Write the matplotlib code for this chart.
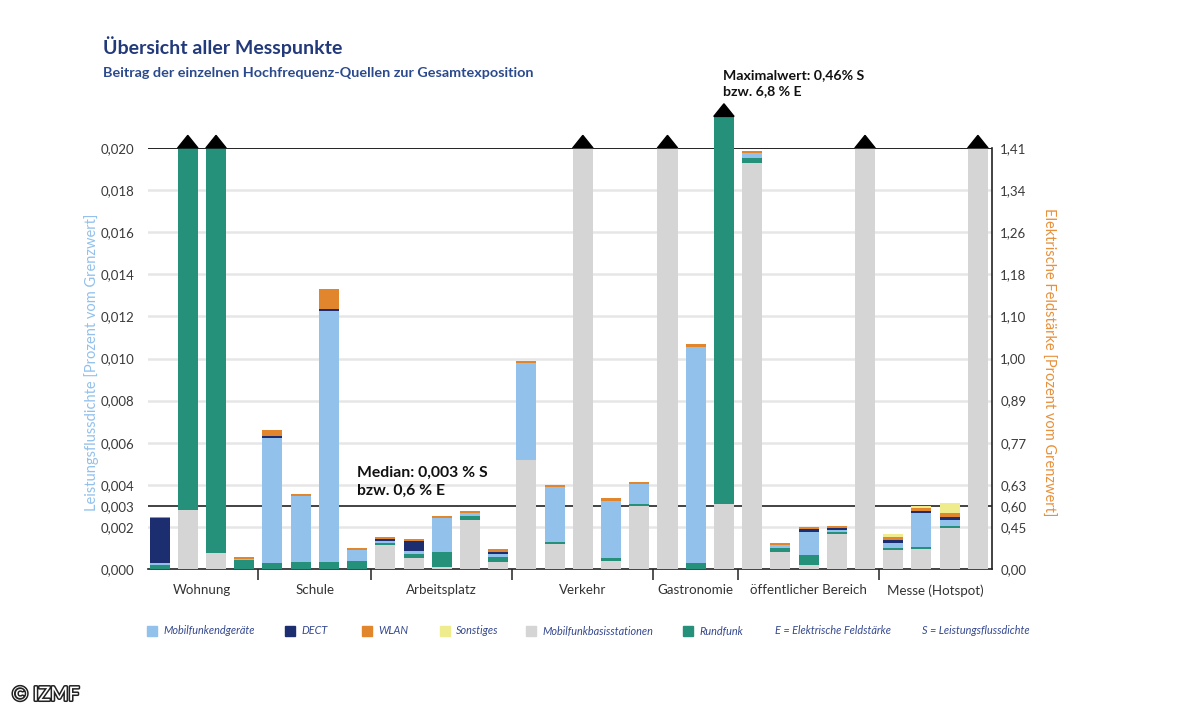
import numpy as np
import matplotlib
matplotlib.use("Agg")
import matplotlib.pyplot as plt
from matplotlib.patches import Polygon, Rectangle
import matplotlib.patheffects as pe

plt.rcParams['font.family'] = ['Lato', 'DejaVu Sans']

# groups of measuring points
groups = ["Wohnung", "Schule", "Arbeitsplatz", "Verkehr", "Gastronomie",
          "öffentlicher Bereich", "Messe (Hotspot)"]
group_sizes = [4, 4, 5, 5, 3, 5, 4]

# contributions in % of limit (power flux density), 30 measuring points
# values above 0,020 are off scale in the original (estimated)
basis = [0, 0.0028, 0.00077, 0, 0, 0, 0, 0,
         0.00114, 0.0005, 0.0001, 0.00233, 0.00035,
         0.00518, 0.00117, 0.028, 0.0004, 0.003,
         0.024, 0, 0.0031,
         0.01927, 0.00082, 0.0002, 0.00165, 0.026,
         0.0009, 0.00094, 0.00193, 0.03]
rundfunk = [0.00019, 0.03, 0.025, 0.00045, 0.0003, 0.00035, 0.00035, 0.00038,
            0.0001, 0.0002, 0.0007, 0.0002, 0.00024,
            0, 0.00013, 0, 0.00011, 0.00008,
            0, 0.00027, 0.4569,
            0.00024, 0.00016, 0.00048, 0.00012, 0,
            0.00011, 0.0001, 0.00012, 0]
endgeraete = [0.00008, 0, 0, 0.00003, 0.0059, 0.0031, 0.0119, 0.00052,
              0.0001, 0.00015, 0.0016, 0.00013, 0.00013,
              0.00462, 0.0026, 0, 0.0027, 0.00094,
              0, 0.0103, 0,
              0.00024, 0.00016, 0.0011, 0.00008, 0,
              0.00024, 0.0016, 0.0003, 0]
dect = [0.00214, 0, 0, 0, 0.0001, 0, 0.0001, 0,
        0.0001, 0.00048, 0, 0, 0.00011,
        0, 0, 0, 0, 0,
        0, 0, 0,
        0, 0, 0.00013, 0.00011, 0,
        0.00013, 0.00011, 0.0001, 0]
wlan = [0.00008, 0, 0, 0.0001, 0.0003, 0.00012, 0.00095, 0.0001,
        0.0001, 0.00011, 0.00011, 0.0001, 0.00011,
        0.0001, 0.0001, 0, 0.00016, 0.0001,
        0, 0.0001, 0,
        0.00012, 0.00011, 0.00008, 0.00008, 0,
        0.00013, 0.00013, 0.00019, 0]
sonstiges = [0] * 26 + [0.00014, 0.00011, 0.0005, 0]

left_ticks = [0, 0.002, 0.003, 0.004, 0.006, 0.008, 0.010, 0.012, 0.014,
              0.016, 0.018, 0.020]
left_labels = ["0,000", "0,002", "0,003", "0,004", "0,006", "0,008", "0,010",
               "0,012", "0,014", "0,016", "0,018", "0,020"]
right_labels = ["0,00", "0,45", "0,60", "0,63", "0,77", "0,89", "1,00",
                "1,10", "1,18", "1,26", "1,34", "1,41"]
median = 0.003

series = [basis, rundfunk, endgeraete, dect, wlan, sonstiges]
colors = ["#d5d5d5", "#26917a", "#92c1ec", "#1c2d70", "#e1862d", "#efec8e"]
legend_items = [("Mobilfunkendgeräte", colors[2]), ("DECT", colors[3]),
                ("WLAN", colors[4]), ("Sonstiges", colors[5]),
                ("Mobilfunkbasisstationen", colors[0]), ("Rundfunk", colors[1]),
                ("E = Elektrische Feldstärke", None),
                ("S = Leistungsflussdichte", None)]
legend_x = [147, 285, 362, 440, 526, 683, 775, 922]

W, H = 1199, 720
fig = plt.figure(figsize=(W / 100, H / 100), dpi=100)
ax = fig.add_axes([148 / W, 1 - 569 / H, (992 - 148) / W, (569 - 148) / H])

n = len(basis)
x = np.arange(n)
total = np.sum(np.array(series), axis=0)
max_idx = int(np.argmax(total))
cap = np.full(n, 0.020)
cap[max_idx] = 0.0215

bottom = np.zeros(n)
for vals, col in zip(series, colors):
    top = bottom + np.array(vals)
    b = np.minimum(bottom, cap)
    t = np.minimum(top, cap)
    ax.bar(x, t - b, bottom=b, width=0.71, color=col, linewidth=0,
           zorder=3, clip_on=False)
    bottom = top

# off-scale markers
for i in np.where(total > 0.020)[0]:
    ax.add_patch(Polygon([(i - 0.36, cap[i]), (i + 0.36, cap[i]),
                          (i, cap[i] + 0.0006)], closed=True, color="black",
                         zorder=4, clip_on=False))

for y in left_ticks:
    if y not in (0, median, 0.020):
        ax.axhline(y, color="#e6e6e6", lw=1.8, zorder=1)
ax.axhline(median, color="#222222", lw=1.2, zorder=2)
ax.axhline(0.020, color="#111111", lw=1.3, zorder=2)

ax.set_xlim(-0.41, 29.5)
ax.set_ylim(0, 0.020)
for s in ["left", "top"]:
    ax.spines[s].set_visible(False)
for s in ["right", "bottom"]:
    ax.spines[s].set_color("#222222")
    ax.spines[s].set_linewidth(1.2)

starts = np.cumsum([0] + group_sizes[:-1])
bounds = (np.cumsum(group_sizes) - 0.5)[:-1]
centers = starts + (np.array(group_sizes) - 1) / 2
ax.set_xticks(bounds)
ax.set_xticklabels([])
ax.tick_params(axis="x", which="major", length=8, width=1.1, color="#222222")
ax.set_xticks(centers, minor=True)
ax.set_xticklabels(groups, minor=True)
ax.tick_params(axis="x", which="minor", length=0, pad=11, labelsize=9.6,
               labelcolor="#333333")

ax.set_yticks(left_ticks)
ax.set_yticklabels(left_labels)
ax.tick_params(axis="y", length=0, pad=10, labelsize=9.5, labelcolor="#3a3a3a")

ax2 = ax.twinx()
ax2.set_ylim(0, 0.020)
ax2.set_yticks(left_ticks)
ax2.set_yticklabels(right_labels)
ax2.tick_params(axis="y", length=0, pad=6, labelsize=9.5, labelcolor="#3a3a3a")
for s in ax2.spines.values():
    s.set_visible(False)

fig.text(92 / W, 1 - 362 / H, "Leistungsflussdichte [Prozent vom Grenzwert]",
         rotation=90, color="#92c1ec", fontsize=10.5, ha="center", va="center")
fig.text(1048 / W, 1 - 362 / H, "Elektrische Feldstärke [Prozent vom Grenzwert]",
         rotation=-90, color="#e8903a", fontsize=10.5, ha="center", va="center")

fig.text(103 / W, 1 - 47 / H, "Übersicht aller Messpunkte", fontsize=14,
         fontweight="bold", color="#22397a", va="center")
fig.text(103 / W, 1 - 73 / H,
         "Beitrag der einzelnen Hochfrequenz-Quellen zur Gesamtexposition",
         fontsize=10.4, fontweight="bold", color="#2b4a8e", va="center")

ax.text(7.0, 0.00337, "Median: 0,003 % S\nbzw. 0,6 % E", fontsize=11.3,
        fontweight="bold", color="#111111", ha="left", va="bottom",
        linespacing=1.4, zorder=5)
ax.text(max_idx - 0.03, 0.0224, "Maximalwert: 0,46% S\nbzw. 6,8 % E",
        fontsize=10.2, fontweight="bold", color="#111111", ha="left",
        va="bottom", linespacing=1.45, clip_on=False)

for (label, col), lx in zip(legend_items, legend_x):
    tx = lx
    if col is not None:
        fig.patches.append(Rectangle((lx / W, 1 - 636 / H), 10 / W, 10 / H,
                                     transform=fig.transFigure, color=col))
        tx = lx + 16
    fig.text(tx / W, 1 - 631 / H, label, fontsize=7.8, style="italic",
             color="#34488f", va="center")

fig.text(12 / W, 1 - 695 / H, "© IZMF", fontsize=14, color="white",
         va="center",
         path_effects=[pe.withStroke(linewidth=2.2, foreground="#222222")])

fig.savefig("out.png", dpi=100)
